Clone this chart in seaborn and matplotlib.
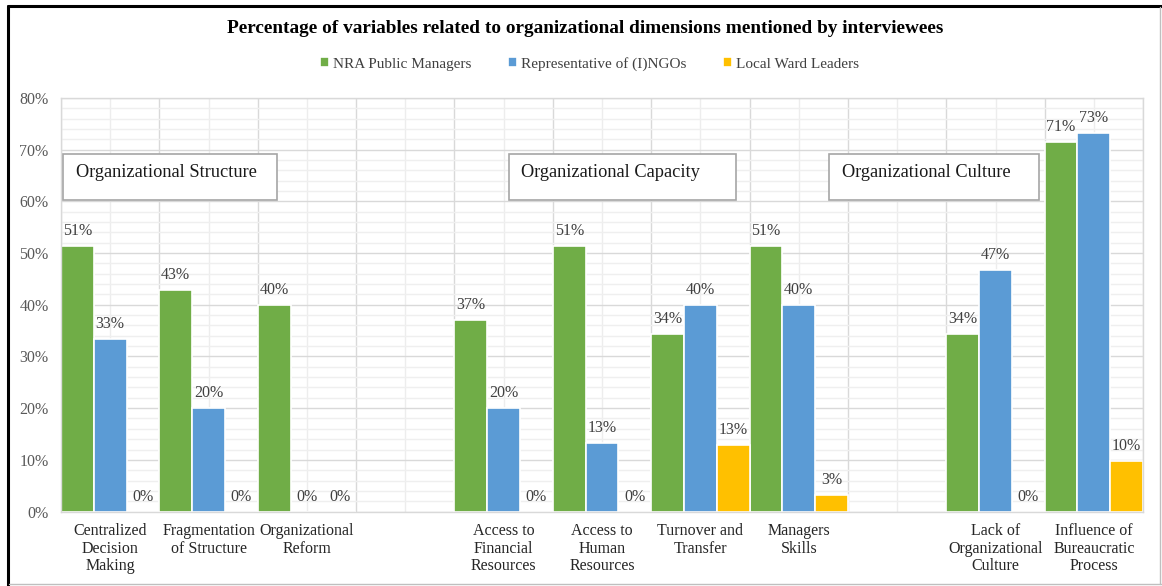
import seaborn as sns
import matplotlib.pyplot as plt
import numpy as np
import pandas as pd
from matplotlib.lines import Line2D
from matplotlib.patches import Rectangle
from matplotlib.ticker import MultipleLocator, FuncFormatter

# categories (blank names keep the empty slots between the dimensions)
categories = ['Centralized\nDecision\nMaking', 'Fragmentation\nof Structure', 'Organizational\nReform', ' ',
              'Access to\nFinancial\nResources', 'Access to\nHuman\nResources', 'Turnover and\nTransfer',
              'Managers\nSkills', '  ', 'Lack of\nOrganizational\nCulture', 'Influence of\nBureaucratic\nProcess']
groups = ['NRA Public Managers', 'Representative of (I)NGOs', 'Local Ward Leaders']
nra = [51.4, 42.9, 40.0, np.nan, 37.1, 51.4, 34.3, 51.4, np.nan, 34.3, 71.4]
ngo = [33.3, 20.0, 0.0, np.nan, 20.0, 13.3, 40.0, 40.0, np.nan, 46.7, 73.3]
ward = [0.0, 0.0, 0.0, np.nan, 0.0, 0.0, 12.9, 3.2, np.nan, 0.0, 9.7]
colors = ['#70AD47', '#5B9BD5', '#FFC000']

# dimension boxes: label, left, right (category units)
dimensions = ['Organizational Structure', 'Organizational Capacity', 'Organizational Culture']
dim_left = [-0.48, 4.05, 7.31]
dim_right = [1.70, 6.36, 9.44]

sns.set_theme(style='white')
plt.rcParams['font.family'] = ['Liberation Serif', 'DejaVu Serif']

rows = []
for g, vals in zip(groups, [nra, ngo, ward]):
    for c, v in zip(categories, vals):
        rows.append({'category': c, 'group': g, 'value': v})
df = pd.DataFrame(rows).dropna()

fig = plt.figure(figsize=(11.62, 5.86), dpi=100)
ax = fig.add_axes([0.0525, 0.127, 0.9312, 0.706])

sns.barplot(data=df, x='category', y='value', hue='group', order=categories, hue_order=groups,
            palette=colors, width=1.0, gap=0, saturation=1, edgecolor='white', linewidth=1.2, ax=ax)

for cont in ax.containers:
    ax.bar_label(cont, labels=[f'{v:.0f}%' for v in cont.datavalues], padding=5,
                 fontsize=11.5, color='#404040')

ax.set_ylim(0, 80)
ax.set_xlim(-0.5, len(categories) - 0.5)
ax.yaxis.set_major_locator(MultipleLocator(10))
ax.yaxis.set_minor_locator(MultipleLocator(2))
ax.yaxis.set_major_formatter(FuncFormatter(lambda v, p: f'{v:.0f}%'))
ax.set_xticks(np.arange(-0.5, len(categories)), minor=True)
ax.set_axisbelow(True)
ax.grid(which='major', axis='y', color='#D9D9D9', linewidth=1)
ax.grid(which='minor', axis='y', color='#EFEFEF', linewidth=1)
ax.grid(which='minor', axis='x', color='#D9D9D9', linewidth=1)
ax.grid(which='major', axis='x', color='#EDEDED', linewidth=1)
ax.tick_params(which='both', length=0)
ax.tick_params(axis='y', labelsize=11.5, labelcolor='#595959', pad=9)
ax.tick_params(axis='x', labelsize=11.5, labelcolor='#262626', pad=8.5)
for lab in ax.get_xticklabels():
    lab.set_linespacing(1.12)
for s in ax.spines.values():
    s.set_color('#D9D9D9')
    s.set_linewidth(1)
ax.set_xlabel('')
ax.set_ylabel('')

# dimension boxes
for name, x0, x1 in zip(dimensions, dim_left, dim_right):
    ax.add_patch(Rectangle((x0, 60.3), x1 - x0, 8.9, facecolor='white', edgecolor='#A6A6A6',
                           linewidth=1.2, zorder=3))
    ax.text(x0 + 0.13, 65.6, name, fontsize=13.2, color='#1a1a1a', ha='left', va='center', zorder=4)

handles, labels = ax.get_legend_handles_labels()
ax.get_legend().remove()
fig.legend(handles, labels, loc='center', bbox_to_anchor=(0.507, 0.891), ncol=3, frameon=False,
           handlelength=0.6, handleheight=0.6, handletextpad=0.25, columnspacing=2.4,
           fontsize=11, labelcolor='#404040')

fig.text(0.504, 0.952, 'Percentage of variables related to organizational dimensions mentioned by interviewees',
         ha='center', va='center', fontsize=13.9, fontweight='bold', color='black')

# outer frame
W, H = 1162, 586
fig.add_artist(Line2D([8 / W, 1], [1 - 6 / H, 1 - 6 / H], color='black', linewidth=2.2))
fig.add_artist(Line2D([8 / W, 8 / W], [0, 1 - 6 / H], color='black', linewidth=2.2))
fig.add_artist(Line2D([1160 / W, 1160 / W], [1 - 584 / H, 1 - 7 / H], color='#BFBFBF', linewidth=1))
fig.add_artist(Line2D([9 / W, 1], [1 - 584 / H, 1 - 584 / H], color='#BFBFBF', linewidth=1))

fig.savefig('out.png', dpi=100)
